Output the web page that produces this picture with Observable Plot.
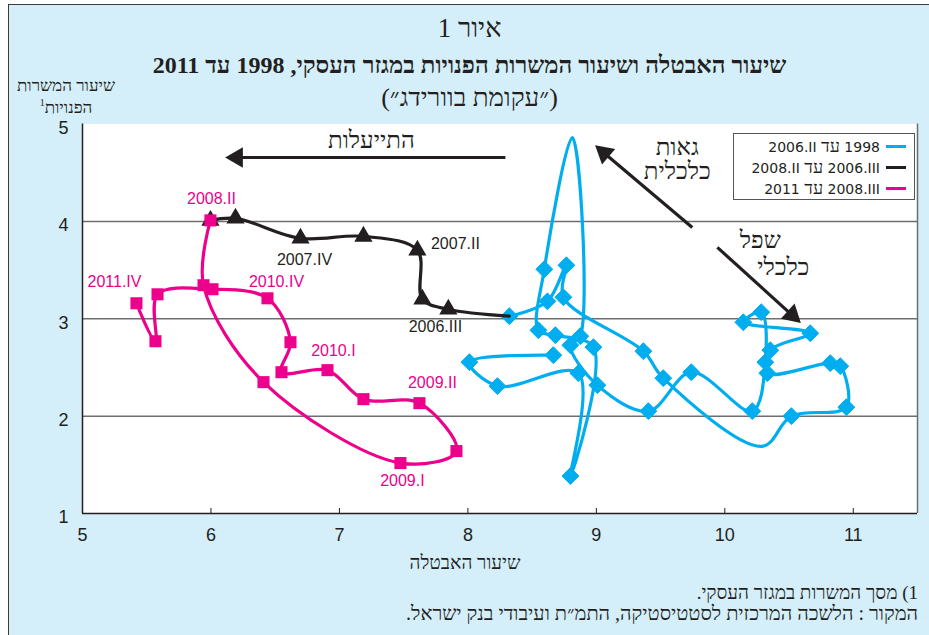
<!DOCTYPE html>
<html><head><meta charset="utf-8">
<script src="https://cdn.jsdelivr.net/npm/d3@7"></script>
<script src="https://cdn.jsdelivr.net/npm/@observablehq/plot@0.6"></script>
<style>
body{margin:0;background:#fff}
#wrap{position:relative;width:929px;height:635px;overflow:hidden;background:#fff}
#box{position:absolute;left:8px;top:4px;width:930px;height:640px;background:#D4EEFA;border-left:1.5px solid #3a3a3a;border-top:1.5px solid #3a3a3a}
#chart{position:absolute;left:0;top:0}
.t{position:absolute;white-space:nowrap;font-family:"Liberation Serif",serif;color:#231F20}
.c{left:5px;width:929px;text-align:center}
#legend{position:absolute;left:733px;top:133px;width:180px;height:65px;background:#fff;border:1px solid #555;font-family:"DejaVu Sans",sans-serif;font-size:14px;color:#231F20}
#legend div{position:absolute;right:8px;height:20px;line-height:20px;direction:rtl;display:flex;align-items:center;gap:6px}
#legend .sw{display:inline-block;width:20px;height:3px}
#legend .he{font-family:"Liberation Serif",serif;font-size:18px}
</style></head>
<body>
<div id="wrap">
<div id="box"></div>
<div id="chart"></div>
<div class="t c" dir="rtl" style="top:12px;font-size:27px;line-height:32px">איור 1</div>
<div class="t c" dir="rtl" style="top:50px;font-size:24px;line-height:30px;font-weight:bold">שיעור האבטלה ושיעור המשרות הפנויות במגזר העסקי, 1998 עד 2011</div>
<div class="t c" dir="rtl" style="top:82px;font-size:26px;line-height:32px">(״עקומת בוורידג״)</div>
<div class="t" dir="rtl" style="left:6px;width:120px;text-align:center;top:77px;font-size:17px;line-height:17px">שיעור המשרות<br>הפנויות<sup style="font-size:10px">1</sup></div>
<div class="t" dir="rtl" style="left:0;width:930px;text-align:center;top:552px;font-size:19px;line-height:22px">שיעור האבטלה</div>
<div class="t" dir="rtl" style="right:11px;top:582px;font-size:19px;line-height:22px">1) מסך המשרות במגזר העסקי.</div>
<div class="t" dir="rtl" style="right:11px;top:602px;font-size:20px;line-height:22px">המקור : הלשכה המרכזית לסטטיסטיקה, התמ״ת ועיבודי בנק ישראל.</div>
<div id="legend">
 <div style="top:2px"><span class="sw" style="background:#00AEEF"></span><span>1998 <span class="he">עד</span> <bdi dir="ltr">2006.II</bdi></span></div>
 <div style="top:23px"><span class="sw" style="background:#231F20"></span><span><bdi dir="ltr">2006.III</bdi> <span class="he">עד</span> <bdi dir="ltr">2008.II</bdi></span></div>
 <div style="top:44px"><span class="sw" style="background:#EC008C"></span><span><bdi dir="ltr">2008.III</bdi> <span class="he">עד</span> 2011</span></div>
</div>
</div>
<script>
// ---- data ----
const xTicks = [5, 6, 7, 8, 9, 10, 11];
const yTicks = [1, 2, 3, 4, 5];
const yGrid = [2, 3, 4];

// 1998 - 2006.II (unemployment rate, vacancy rate)
const blueX = [8.665, 8.012, 8.230, 8.860, 8.798, 8.977, 8.681, 8.549, 8.595, 8.813, 8.875, 8.798, 9.008, 9.405, 9.739, 10.214, 10.315, 10.284, 10.144, 10.665, 10.354, 10.331, 10.821, 10.899, 10.946, 10.518, 10.290, 9.521, 9.366, 8.743, 8.767, 8.619, 8.323];
const blueY = [2.626, 2.554, 2.308, 2.441, 1.385, 2.708, 2.831, 2.882, 3.508, 4.860, 2.821, 2.728, 2.318, 2.051, 2.451, 2.051, 2.554, 3.067, 2.964, 2.851, 2.677, 2.441, 2.544, 2.513, 2.092, 2.000, 1.690, 2.390, 2.667, 3.221, 3.549, 3.179, 3.026];
const blueNoMarker = [9, 26];

// 2006.III - 2008.II
const blackQuarters = ["2006.III", "2006.IV", "2007.II", "2007.III", "2007.IV", "2008.I", "2008.II"];
const blackX = [7.848, 7.646, 7.607, 7.187, 6.697, 6.191, 5.996];
const blackY = [3.097, 3.200, 3.703, 3.846, 3.826, 4.031, 4.010];

// 2008.II - 2011.IV
const pinkQuarters = ["2008.II", "2008.III", "2008.IV", "2009.I", "2009.II", "2009.III", "2009.IV", "2010.I", "2010.II", "2010.III", "2010.IV", "2011.I", "2011.II", "2011.III", "2011.IV"];
const pinkX = [5.996, 5.942, 6.409, 7.475, 7.911, 7.623, 7.187, 6.907, 6.549, 6.619, 6.440, 6.012, 5.584, 5.568, 5.420];
const pinkY = [4.010, 3.344, 2.349, 1.518, 1.641, 2.133, 2.174, 2.472, 2.451, 2.759, 3.210, 3.303, 3.251, 2.769, 3.159];

// point labels
const labelText = ["2007.II", "2007.IV", "2006.III", "2008.II", "2011.IV", "2010.IV", "2010.I", "2009.II", "2009.I"];
const labelX = [7.903, 6.728, 7.747, 6.004, 5.249, 6.510, 6.953, 7.724, 7.490];
const labelY = [3.774, 3.600, 2.913, 4.226, 3.374, 3.374, 2.667, 2.338, 1.333];
const labelSeries = ["b", "b", "b", "p", "p", "p", "p", "p", "p"];

// annotations
const noteText = ["התייעלות", "גאות", "כלכלית", "שפל", "כלכלי"];
const noteX = [7.249, 9.630, 9.630, 10.276, 10.455];
const noteY = [4.831, 4.765, 4.513, 3.805, 3.528];
const arrowX1 = [8.292, 9.747, 9.942];
const arrowY1 = [4.656, 3.938, 3.733];
const arrowX2 = [6.113, 8.992, 10.590];
const arrowY2 = [4.656, 4.779, 2.958];

// ---- chart ----
const BLUE = "#00AEEF", BLACK = "#231F20", PINK = "#EC008C";
const W = 929, H = 580, ML = 82, MR = 12, MT = 123.5, MB = 67;
const xDom = [5, 11.5], yDom = [1, 5];
const kx = (W - ML - MR) / (xDom[1] - xDom[0]);
const ky = (H - MT - MB) / (yDom[1] - yDom[0]);

const blue = blueX.map((x, i) => ({x, y: blueY[i], i}));
const black = [blue[blue.length - 1], ...blackX.map((x, i) => ({x, y: blackY[i], q: blackQuarters[i]}))];
const pink = pinkX.map((x, i) => ({x, y: pinkY[i], q: pinkQuarters[i]}));
const labels = labelText.map((t, i) => ({t, x: labelX[i], y: labelY[i], s: labelSeries[i]}));
const notes = noteText.map((t, i) => ({t, x: noteX[i], y: noteY[i]}));

const HEAD = 11.5; // px from tip to triangle centroid
const arrows = arrowX1.map((x1, i) => {
  const y1 = arrowY1[i], x2 = arrowX2[i], y2 = arrowY2[i];
  const dx = (x2 - x1) * kx, dy = -(y2 - y1) * ky;
  const L = Math.hypot(dx, dy), ux = dx / L, uy = dy / L;
  return {x1, y1, hx: x2 - HEAD * ux / kx, hy: y2 + HEAD * uy / ky,
          rot: Math.atan2(ux, -uy) * 180 / Math.PI};
});

const plotH = H - MT - MB;
const chart = Plot.plot({
  width: W, height: H,
  marginLeft: ML, marginRight: MR, marginTop: MT, marginBottom: MB,
  style: {background: "transparent", overflow: "visible"},
  x: {domain: xDom},
  y: {domain: yDom},
  marks: [
    Plot.frame({fill: "white", stroke: null}),
    Plot.gridY(yGrid, {stroke: "#6d6e71", strokeOpacity: 1, strokeWidth: 1.5}),
    Plot.ruleX([xDom[1]], {stroke: "#6d6e71", strokeWidth: 1.5}),
    Plot.ruleX([xDom[0]], {stroke: "#231F20", strokeWidth: 1.5}),
    Plot.ruleY([yDom[0]], {stroke: "#231F20", strokeWidth: 1.5}),
    Plot.ruleX(xTicks.slice(1), {x: d => d, stroke: "#231F20", insetTop: plotH - 5}),
    Plot.axisX({ticks: xTicks, tickFormat: d => String(d), tickSize: 0, tickPadding: 15, fontSize: 18, fontFamily: "Liberation Sans, Arial, sans-serif", fill: BLACK, label: null}),
    Plot.axisY({ticks: yTicks, tickFormat: d => String(d), tickSize: 0, tickPadding: 14, dy: 4, fontSize: 18, fontFamily: "Liberation Sans, Arial, sans-serif", fill: BLACK, label: null}),
    // arrows
    Plot.link(arrows, {x1: "x1", y1: "y1", x2: "hx", y2: "hy", stroke: BLACK, strokeWidth: 3.2}),
    Plot.dot(arrows, {x: "hx", y: "hy", symbol: "triangle", r: 7.6, rotate: "rot", fill: BLACK, stroke: null}),
    Plot.text(notes, {x: "x", y: "y", text: "t", fontSize: 24, fontFamily: "Liberation Serif, serif", fill: BLACK}),
    // series
    Plot.line(blue, {x: "x", y: "y", curve: "catmull-rom", stroke: BLUE, strokeWidth: 3.2}),
    Plot.dot(blue.filter(d => !blueNoMarker.includes(d.i)), {x: "x", y: "y", symbol: "diamond2", r: 7.6, fill: BLUE, stroke: BLUE, strokeWidth: 1}),
    Plot.line(black, {x: "x", y: "y", curve: "catmull-rom", stroke: BLACK, strokeWidth: 3.2}),
    Plot.dot(black.slice(1), {x: "x", y: "y", symbol: "triangle", r: 5.8, fill: BLACK, stroke: BLACK}),
    Plot.line(pink, {x: "x", y: "y", curve: "catmull-rom", stroke: PINK, strokeWidth: 3.2}),
    Plot.dot(pink, {x: "x", y: "y", symbol: "square", r: 6.8, fill: PINK, stroke: null}),
    Plot.text(labels, {x: "x", y: "y", text: "t", fontSize: 16, fontFamily: "Liberation Sans, Arial, sans-serif", fill: d => d.s === "b" ? BLACK : PINK})
  ]
});
document.getElementById("chart").append(chart);
</script>
</body></html>
